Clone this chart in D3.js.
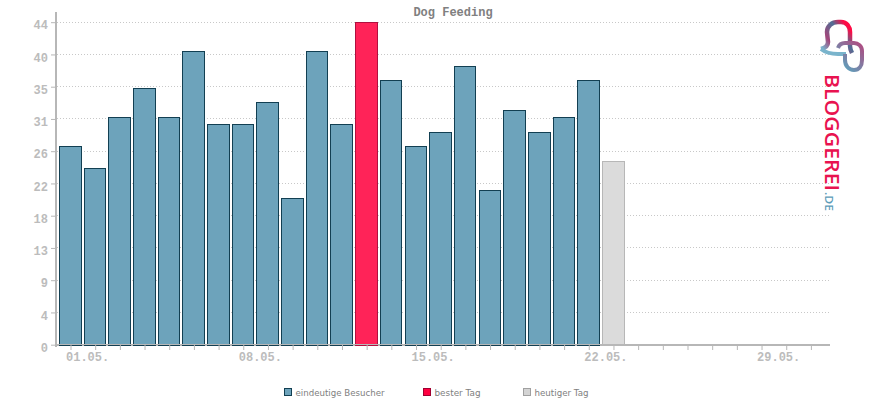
<!DOCTYPE html>
<html>
<head>
<meta charset="utf-8">
<script src="https://cdnjs.cloudflare.com/ajax/libs/d3/7.8.5/d3.min.js"></script>
<style>
  html, body { margin: 0; padding: 0; background: #fff; }
  svg { display: block; }
  .mono { font-family: "Liberation Mono", monospace; font-weight: bold; }
</style>
</head>
<body>
<script>
var title = "Dog Feeding";
var days = d3.range(1, 32);
var visitors = [27, 24, 31, 35, 31, 40, 30, 30, 33, 20, 40, 30, 44, 36, 27, 29, 38, 21, 32, 29, 31, 36, 25];
var bestDay = 13;
var today = 23;
var yTicks = [0, 4.4, 8.8, 13.2, 17.6, 22, 26.4, 30.8, 35.2, 39.6, 44];
var xLabels = {1: "01.05.", 8: "08.05.", 15: "15.05.", 22: "22.05.", 29: "29.05."};
var legendNames = ["eindeutige Besucher", "bester Tag", "heutiger Tag"];

var width = 870, height = 400;
var grey = "#b7b7b7";

var svg = d3.select("body").append("svg")
    .attr("width", width)
    .attr("height", height);

var x = d3.scaleLinear().domain([1, 31]).range([70.5, 810.9]);
var y = d3.scaleLinear().domain([0, 44]).range([344.7, 22.2]);

function fillOf(day) {
  return day == bestDay ? "#ff2358" : day == today ? "#dbdbdb" : "#6da3bb";
}
function strokeOf(day) {
  return day == bestDay ? "#b0103f" : day == today ? grey : "#123f52";
}

// dotted grid
svg.append("g").selectAll("line")
    .data(yTicks.slice(1))
  .enter().append("line")
    .attr("x1", 57).attr("x2", 830)
    .attr("y1", function(d) { return Math.floor(y(d)) + 0.5; })
    .attr("y2", function(d) { return Math.floor(y(d)) + 0.5; })
    .attr("stroke", "#c8c8c8")
    .attr("stroke-dasharray", "1,2");

// axis lines go under the bars
svg.append("rect").attr("x", 55).attr("y", 12).attr("width", 2).attr("height", 335).attr("fill", grey);
svg.append("rect").attr("x", 55).attr("y", 344).attr("width", 775).attr("height", 2).attr("fill", grey);

// bars
svg.append("g").selectAll("rect")
    .data(visitors)
  .enter().append("rect")
    .attr("x", function(d, i) { return Math.round(x(i + 1) - 11.5) + 0.5; })
    .attr("width", function(d, i) { return Math.floor(x(i + 1) + 10.6) - Math.round(x(i + 1) - 11.5); })
    .attr("y", function(d) { return Math.floor(y(d)) + 0.5; })
    .attr("height", function(d) { return 345 - Math.floor(y(d)); })
    .attr("fill", function(d, i) { return fillOf(i + 1); })
    .attr("stroke", function(d, i) { return strokeOf(i + 1); })
    .attr("shape-rendering", "crispEdges");

svg.append("rect").attr("x", 57).attr("y", 344).attr("width", 773).attr("height", 1).attr("fill", grey);

// axes
var yAxis = d3.axisLeft(y)
    .tickValues(yTicks)
    .tickFormat(d3.format(".0f"))
    .tickSize(4)
    .tickPadding(3);
var xAxis = d3.axisBottom(x)
    .tickValues(days)
    .tickFormat(function(d) { return xLabels[d] || ""; })
    .tickSize(5)
    .tickPadding(2);

var gy = svg.append("g").attr("transform", "translate(55,0)").call(yAxis);
var gx = svg.append("g").attr("transform", "translate(0,345)").call(xAxis);

gy.select(".domain").remove();
gx.select(".domain").remove();
gy.selectAll("line").attr("stroke", grey);
gx.selectAll("line").attr("stroke", grey);
gy.selectAll("text")
    .attr("class", "mono")
    .attr("fill", "#bcbcbc")
    .attr("font-size", "12px")
    .attr("dy", "0.55em");
gx.selectAll("text")
    .attr("class", "mono")
    .attr("fill", "#bcbcbc")
    .attr("font-size", "12px")
    .attr("text-anchor", "start")
    .attr("dx", -5);

// title
svg.append("text")
    .attr("class", "mono")
    .attr("x", 453).attr("y", 16)
    .attr("text-anchor", "middle")
    .attr("font-size", "12px")
    .attr("fill", "#808080")
    .text(title);

// legend
var legendX = [284, 423, 523];
var legendLen = [89, 46, 54];
var legendFill = ["#6da3bb", "#ff0040", "#d4d4d4"];
var legendStroke = ["#123f52", "#a00030", "#a0a0a0"];
var legend = svg.append("g").selectAll("g")
    .data(legendNames)
  .enter().append("g")
    .attr("transform", function(d, i) { return "translate(" + legendX[i] + ",388)"; });
legend.append("rect")
    .attr("x", 0.5).attr("y", 0.5)
    .attr("width", 7).attr("height", 7)
    .attr("fill", function(d, i) { return legendFill[i]; })
    .attr("stroke", function(d, i) { return legendStroke[i]; });
legend.append("text")
    .attr("x", 11.5).attr("y", 7.5)
    .attr("font-family", "DejaVu Sans")
    .attr("font-size", "9px")
    .attr("fill", "#808080")
    .attr("textLength", function(d, i) { return legendLen[i]; })
    .attr("lengthAdjust", "spacingAndGlyphs")
    .text(function(d) { return d; });

// logo
var defs = svg.append("defs");
var textGrad = defs.append("linearGradient").attr("id", "textGrad")
    .attr("gradientUnits", "userSpaceOnUse")
    .attr("x1", 0).attr("y1", 73).attr("x2", 0).attr("y2", 192);
textGrad.append("stop").attr("offset", 0).attr("stop-color", "#e8134f");
textGrad.append("stop").attr("offset", 0.5).attr("stop-color", "#96386f");
textGrad.append("stop").attr("offset", 1).attr("stop-color", "#4a6f98");
var loopA = defs.append("linearGradient").attr("id", "loopA")
    .attr("gradientUnits", "userSpaceOnUse")
    .attr("x1", 850).attr("y1", 30).attr("x2", 824).attr("y2", 50);
loopA.append("stop").attr("offset", 0).attr("stop-color", "#ff0a45");
loopA.append("stop").attr("offset", 0.3).attr("stop-color", "#4f6f96");
loopA.append("stop").attr("offset", 0.7).attr("stop-color", "#a3467a");
loopA.append("stop").attr("offset", 1).attr("stop-color", "#7ab4cc");
var loopB = defs.append("linearGradient").attr("id", "loopB")
    .attr("gradientUnits", "userSpaceOnUse")
    .attr("x1", 864).attr("y1", 45).attr("x2", 844).attr("y2", 68);
loopB.append("stop").attr("offset", 0).attr("stop-color", "#b04a80");
loopB.append("stop").attr("offset", 1).attr("stop-color", "#5f9fbb");

svg.append("path")
    .attr("d", "M821,49 C826,53 832,54 838,54 L846,54")
    .attr("fill", "none").attr("stroke", "#7ab4cc").attr("stroke-width", 4);
svg.append("path")
    .attr("d", "M821,49 C825,48 828,46 828,42 L827,32 C827,26 832,22 838,22 L841,22 C847,22 850,27 850,32 L850,46 C850,49 851,51 852,53")
    .attr("fill", "none").attr("stroke", "url(#loopA)").attr("stroke-width", 4.5);
svg.append("path")
    .attr("d", "M845,54 L845,60 C845,66 849,70 854,70 C859,70 862,66 862,60 L862,51 C862,46 858,43 854,43 L845,43 C841,43 839,45 838,48")
    .attr("fill", "none").attr("stroke", "url(#loopB)").attr("stroke-width", 4);

svg.append("text")
    .attr("transform", "translate(825,74) rotate(90)")
    .attr("font-family", "Open Sans")
    .attr("font-weight", 600)
    .attr("font-size", "19.5px")
    .attr("textLength", 117)
    .attr("lengthAdjust", "spacingAndGlyphs")
    .attr("fill", "url(#textGrad)")
    .text("BLOGGEREI");
svg.append("text")
    .attr("transform", "translate(825,192) rotate(90)")
    .attr("font-family", "Open Sans")
    .attr("font-weight", 600)
    .attr("font-size", "11px")
    .attr("textLength", 19)
    .attr("lengthAdjust", "spacingAndGlyphs")
    .attr("fill", "#5d9bb8")
    .text(".DE");
</script>
</body>
</html>
